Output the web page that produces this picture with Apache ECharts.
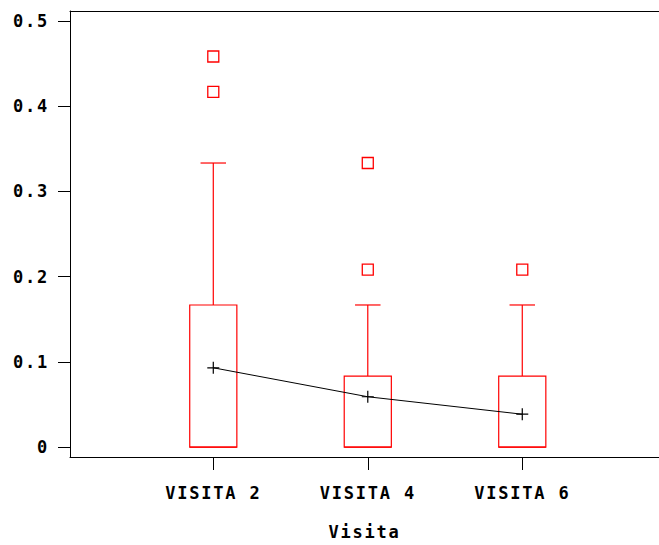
<!DOCTYPE html>
<html>
<head>
<meta charset="utf-8">
<script src="https://cdn.jsdelivr.net/npm/echarts@6/dist/echarts.min.js"></script>
<style>
html,body{margin:0;padding:0;background:#fff;overflow:hidden;}
#chart{width:659px;height:545px;}
#chart svg text{letter-spacing:1.8px;}
</style>
</head>
<body>
<div id="chart"></div>
<script>
// ---- data ----
var categories = ['VISITA 2', 'VISITA 4', 'VISITA 6'];
var lowWhisker = [0, 0, 0];
var q1 = [0, 0, 0];
var median = [0, 0, 0];
var q3 = [0.1667, 0.0833, 0.0833];
var highWhisker = [0.3333, 0.1667, 0.1667];
var means = [0.093, 0.059, 0.0385];
var outlierCat = [0, 0, 1, 1, 2];
var outlierVal = [0.4583, 0.4167, 0.3333, 0.2083, 0.2083];
var yTicks = [0, 0.1, 0.2, 0.3, 0.4, 0.5];
var xName = 'Visita';

var FONT = '"DejaVu Sans Mono", monospace';
var RED = '#ff0000';

var boxData = categories.map(function (c, i) {
  return [i + 1, lowWhisker[i], q1[i], median[i], q3[i], highWhisker[i]];
});
var meanData = categories.map(function (c, i) { return [i + 1, means[i]]; });
var outData = outlierCat.map(function (c, i) { return [c + 1, outlierVal[i]]; });

function renderBox(params, api) {
  var x = api.value(0);
  var pLow = api.coord([x, api.value(1)]);
  var pQ1 = api.coord([x, api.value(2)]);
  var pMed = api.coord([x, api.value(3)]);
  var pQ3 = api.coord([x, api.value(4)]);
  var pHigh = api.coord([x, api.value(5)]);
  var bw = api.size([0.305, 0])[0];
  var cw = api.size([0.165, 0])[0];
  var cx = pQ1[0];
  var st = { stroke: RED, lineWidth: 1.2, fill: null };
  var children = [
    { type: 'rect', shape: { x: cx - bw / 2, y: pQ3[1], width: bw, height: pQ1[1] - pQ3[1] }, style: { stroke: RED, lineWidth: 1.2, fill: 'rgba(0,0,0,0)' } },
    { type: 'line', shape: { x1: cx - bw / 2, y1: pMed[1], x2: cx + bw / 2, y2: pMed[1] }, style: st },
    { type: 'line', shape: { x1: cx, y1: pQ3[1], x2: cx, y2: pHigh[1] }, style: st },
    { type: 'line', shape: { x1: cx - cw / 2, y1: pHigh[1], x2: cx + cw / 2, y2: pHigh[1] }, style: st }
  ];
  if (pLow[1] > pQ1[1] + 0.5) {
    children.push({ type: 'line', shape: { x1: cx, y1: pQ1[1], x2: cx, y2: pLow[1] }, style: st });
    children.push({ type: 'line', shape: { x1: cx - cw / 2, y1: pLow[1], x2: cx + cw / 2, y2: pLow[1] }, style: st });
  }
  return { type: 'group', children: children };
}

var chart = echarts.init(document.getElementById('chart'), null, { renderer: 'svg' });
chart.setOption({
  backgroundColor: '#fff',
  animation: false,
  grid: { left: 70, top: 11, right: 0, bottom: 88, show: false },
  xAxis: [{
    type: 'value',
    min: 0.0725,
    max: 3.885,
    name: xName,
    nameLocation: 'middle',
    nameGap: 66,
    nameTextStyle: { fontFamily: FONT, fontWeight: 'bold', fontSize: 17, color: '#000', verticalAlign: 'top' },
    splitLine: { show: false },
    axisLine: { show: true, onZero: false, lineStyle: { color: '#000', width: 1 } },
    axisTick: { show: true, length: 13, lineStyle: { color: '#000' }, customValues: [1, 2, 3] },
    axisLabel: {
      customValues: [1, 2, 3],
      margin: 27,
      fontFamily: FONT, fontWeight: 'bold', fontSize: 17, color: '#000',
      verticalAlign: 'top',
      formatter: function (v) { return categories[Math.round(v) - 1] || ''; }
    }
  }, {
    type: 'value',
    position: 'top',
    min: 0.0725,
    max: 3.885,
    splitLine: { show: false },
    axisLine: { show: true, onZero: false, lineStyle: { color: '#000', width: 1 } },
    axisTick: { show: false },
    axisLabel: { show: false }
  }],
  yAxis: {
    type: 'value',
    min: -0.0117,
    max: 0.5117,
    splitLine: { show: false },
    axisLine: { show: true, onZero: false, lineStyle: { color: '#000', width: 1 } },
    axisTick: { show: true, length: 12, lineStyle: { color: '#000' }, customValues: yTicks },
    axisLabel: {
      customValues: yTicks,
      margin: 21,
      padding: [8, 0, 0, 0],
      fontFamily: FONT, fontWeight: 'bold', fontSize: 17, color: '#000',
      formatter: function (v) { return Math.abs(v) < 1e-9 ? '0' : v.toFixed(1); }
    }
  },
  series: [
    {
      type: 'custom',
      renderItem: renderBox,
      data: boxData,
      encode: { x: 0, y: [1, 2, 3, 4, 5] },
      z: 2
    },
    {
      type: 'scatter',
      data: outData,
      symbol: 'rect',
      symbolSize: 11,
      itemStyle: { color: '#fff', borderColor: RED, borderWidth: 1.3, opacity: 1 },
      z: 3
    },
    {
      type: 'line',
      data: meanData,
      symbol: 'path://M0,5L10,5M5,0L5,10',
      symbolSize: 12,
      showSymbol: true,
      lineStyle: { color: '#000', width: 1 },
      itemStyle: { color: 'rgba(0,0,0,0)', borderColor: '#000', borderWidth: 1.2 },
      z: 4
    }
  ]
});
</script>
</body>
</html>
